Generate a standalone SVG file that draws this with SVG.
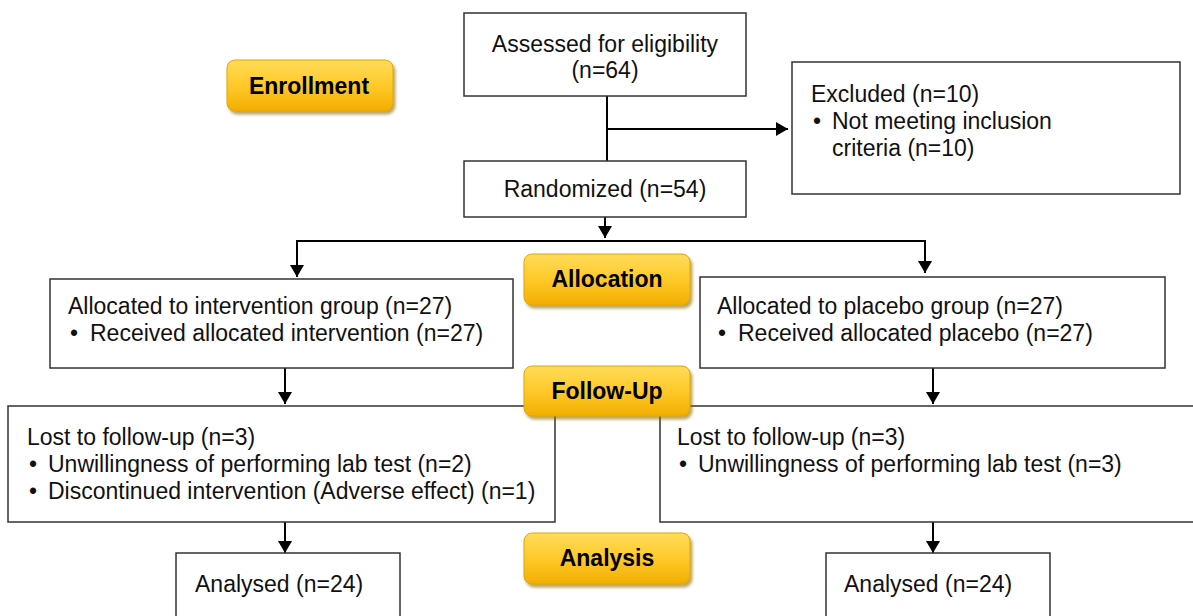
<svg xmlns="http://www.w3.org/2000/svg" width="1193" height="616" viewBox="0 0 1193 616">
<defs>
<linearGradient id="gold" x1="0" y1="0" x2="0" y2="1">
<stop offset="0" stop-color="#FFDC5A"/>
<stop offset="0.5" stop-color="#FFC928"/>
<stop offset="1" stop-color="#F2AE00"/>
</linearGradient>
<marker id="arr" markerWidth="12" markerHeight="14" refX="12" refY="7" orient="auto" markerUnits="userSpaceOnUse">
<path d="M0,0 L12,7 L0,14 Z" fill="#000"/>
</marker>
<filter id="sh" x="-10%" y="-10%" width="125%" height="135%">
<feDropShadow dx="2" dy="3" stdDeviation="1.5" flood-color="#8a6a00" flood-opacity="0.6"/>
</filter>
</defs>
<style>
.box{fill:#fff;stroke:#333;stroke-width:1.5}
.t{font-family:"Liberation Sans",Arial,sans-serif;font-size:23px;fill:#111}
.c{text-anchor:middle}
.badge{fill:url(#gold);stroke:#E3A600;stroke-width:1;filter:url(#sh)}
.bt{font-family:"Liberation Sans",Arial,sans-serif;font-size:23px;font-weight:bold;fill:#000;text-anchor:middle}
.ln{fill:none;stroke:#000;stroke-width:2}
</style>
<rect width="1193" height="616" fill="#fff"/>

<g id="connectors">
<line class="ln" x1="607" y1="96" x2="607" y2="161"/>
<line class="ln" x1="607" y1="129" x2="788" y2="129" marker-end="url(#arr)"/>
<line class="ln" x1="605" y1="217" x2="605" y2="238" marker-end="url(#arr)"/>
<polyline class="ln" points="297,270 297,241 925,241 925,273" marker-end="url(#arr)"/>
<line class="ln" x1="297" y1="241" x2="297" y2="277" marker-end="url(#arr)"/>
<line class="ln" x1="285" y1="368" x2="285" y2="404" marker-end="url(#arr)"/>
<line class="ln" x1="933" y1="368" x2="933" y2="404" marker-end="url(#arr)"/>
<line class="ln" x1="285" y1="522" x2="285" y2="553" marker-end="url(#arr)"/>
<line class="ln" x1="933" y1="522" x2="933" y2="553" marker-end="url(#arr)"/>
</g>

<g id="assessed">
<rect class="box" x="464" y="13" width="282" height="83"/>
<text class="t c" x="605" y="52">Assessed for eligibility</text>
<text class="t c" x="605" y="78">(n=64)</text>
</g>
<g id="excluded">
<rect class="box" x="792" y="62" width="388" height="132"/>
<text class="t" x="811" y="102">Excluded (n=10)</text>
<text class="t" y="129"><tspan x="813">•</tspan><tspan x="832">Not meeting inclusion</tspan></text>
<text class="t" x="832" y="156">criteria (n=10)</text>
</g>
<g id="randomized">
<rect class="box" x="464" y="161" width="282" height="56"/>
<text class="t c" x="605" y="197">Randomized (n=54)</text>
</g>
<g id="alloc-intervention">
<rect class="box" x="50" y="279" width="463" height="89"/>
<text class="t" x="68" y="314">Allocated to intervention group (n=27)</text>
<text class="t" y="341"><tspan x="70">•</tspan><tspan x="90">Received allocated intervention (n=27)</tspan></text>
</g>
<g id="alloc-placebo">
<rect class="box" x="700" y="277" width="465" height="91"/>
<text class="t" x="717" y="314">Allocated to placebo group (n=27)</text>
<text class="t" y="341"><tspan x="718">•</tspan><tspan x="738">Received allocated placebo (n=27)</tspan></text>
</g>
<g id="lost-intervention">
<rect class="box" x="8" y="406" width="547" height="116"/>
<text class="t" x="27" y="445">Lost to follow-up (n=3)</text>
<text class="t" y="472"><tspan x="29">•</tspan><tspan x="48">Unwillingness of performing lab test (n=2)</tspan></text>
<text class="t" y="499"><tspan x="29">•</tspan><tspan x="48">Discontinued intervention (Adverse effect) (n=1)</tspan></text>
</g>
<g id="lost-placebo">
<rect class="box" x="660" y="406" width="540" height="116"/>
<text class="t" x="677" y="445">Lost to follow-up (n=3)</text>
<text class="t" y="472"><tspan x="679">•</tspan><tspan x="698">Unwillingness of performing lab test (n=3)</tspan></text>
</g>
<g id="analysed-intervention">
<rect class="box" x="176" y="553" width="224" height="80"/>
<text class="t" x="195" y="592">Analysed (n=24)</text>
</g>
<g id="analysed-placebo">
<rect class="box" x="826" y="553" width="224" height="80"/>
<text class="t" x="844" y="592">Analysed (n=24)</text>
</g>

<g id="badge-enrollment">
<rect class="badge" x="227" y="60" width="166" height="51" rx="8"/>
<text class="bt" x="309" y="94">Enrollment</text>
</g>
<g id="badge-allocation">
<rect class="badge" x="524" y="254" width="166" height="51" rx="8"/>
<text class="bt" x="607" y="287">Allocation</text>
</g>
<g id="badge-followup">
<rect class="badge" x="524" y="366" width="166" height="50" rx="8"/>
<text class="bt" x="607" y="399">Follow-Up</text>
</g>
<g id="badge-analysis">
<rect class="badge" x="524" y="533" width="166" height="51" rx="8"/>
<text class="bt" x="607" y="566">Analysis</text>
</g>
</svg>
